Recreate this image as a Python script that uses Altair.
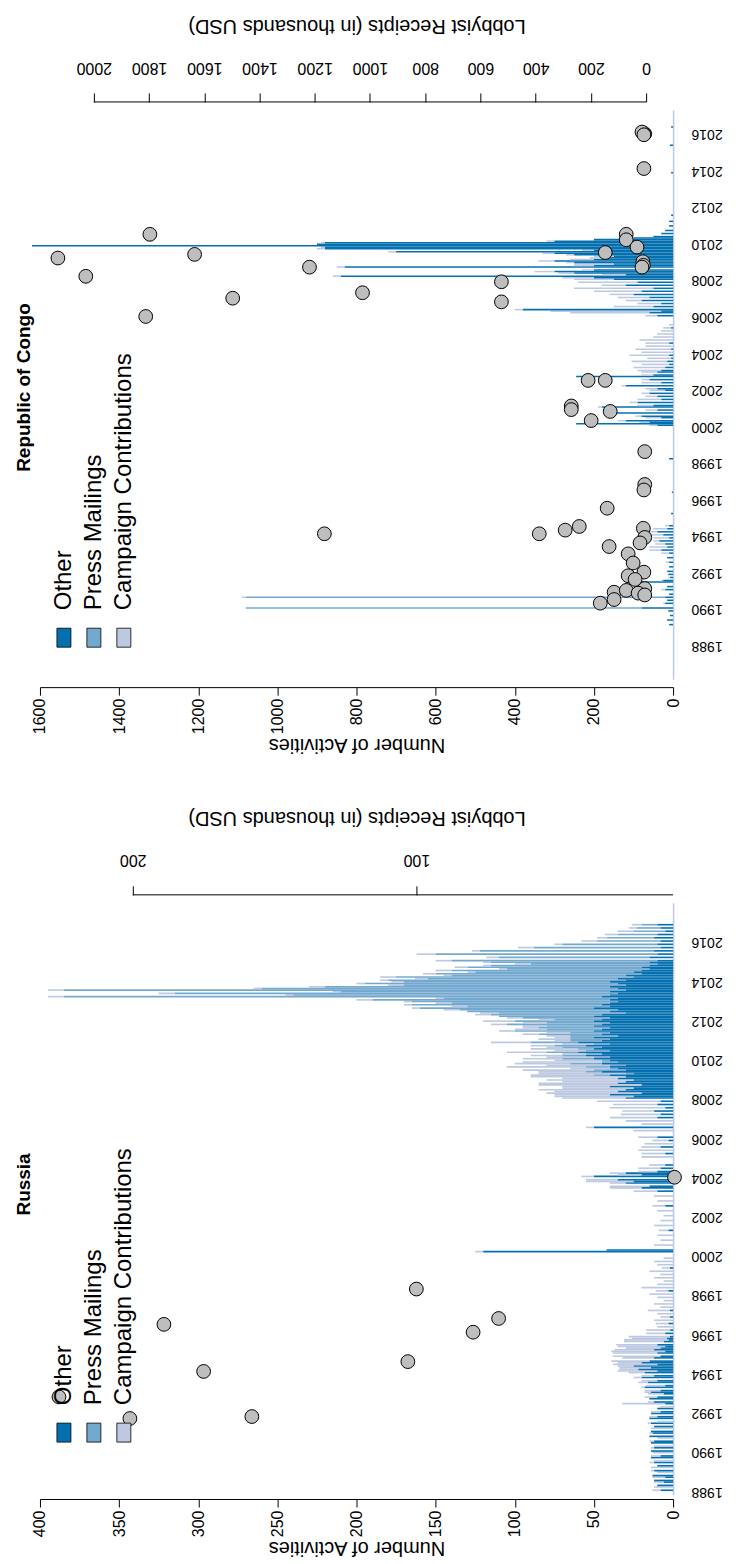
import altair as alt
import pandas as pd

# ---------------- data ----------------
series = ["Other", "Press Mailings", "Campaign Contributions"]
colors = ["#0570b0", "#74a9cf", "#bdc9e1"]
years = list(range(1988, 2017, 2))

# Russia: monthly activities (month index from Jan 1988)
ru_m = [0, 2, 3, 5, 6, 8, 9, 11, 12, 14, 15, 17, 18, 20, 21, 23, 24, 26, 27, 29, 30, 32, 33, 35,
        36, 38, 39, 41, 42, 44, 45, 47, 48, 50, 51, 53, 54, 56, 57, 59, 60, 61, 63, 64, 66, 67, 69, 70,
        72, 73, 74, 75, 76, 77, 78, 79, 81, 82, 84, 85, 86, 87, 88, 89, 91, 92, 93, 94,
        96, 98, 100, 102, 104, 106, 108, 110, 112, 114, 116, 118, 120, 122, 124, 126, 128, 130,
        132, 134, 136, 138, 140, 142, 146, 147, 150, 153, 156, 159, 162, 165, 168, 171, 174, 177,
        180, 183, 185, 186, 188, 189, 190, 192, 193, 194, 195, 197, 199, 204, 206, 208, 210, 212, 214,
        216, 220, 222, 224, 226, 228, 230, 232, 234, 236, 238,
        240, 241, 242, 243, 244, 245, 246, 247, 248, 249, 250, 251,
        252, 253, 254, 255, 256, 257, 258, 259, 260, 261, 262, 263,
        264, 265, 266, 267, 268, 269, 270, 271, 272, 273, 274, 275,
        276, 277, 278, 279, 280, 281, 282, 283, 284, 285, 286, 287,
        288, 289, 290, 291, 292, 293, 294, 295, 296, 297, 298, 299,
        300, 301, 302, 303, 304, 305, 306, 307, 308, 309, 310, 311,
        312, 313, 314, 315, 316, 317, 318, 319, 320, 321, 322, 323,
        324, 326, 328, 330, 332, 334, 336, 338, 340, 342, 344, 346]
ru_oth = [8, 0, 10, 6, 12, 5, 13, 0, 12, 0, 10, 12, 0, 14, 8, 0, 14, 12, 0, 14, 12, 0, 15, 13,
          14, 0, 12, 14, 0, 15, 10, 14, 8, 10, 0, 5, 12, 15, 10, 6, 14, 8, 18, 5, 16, 10, 20, 12,
          18, 10, 22, 14, 25, 10, 20, 15, 12, 8, 10, 5, 12, 8, 5, 10, 6, 3, 4, 2,
          5, 2, 0, 3, 0, 2, 0, 2, 0, 0, 0, 0, 0, 3, 0, 0, 0, 0,
          0, 0, 2, 0, 0, 0, 120, 42, 0, 0, 0, 3, 0, 0, 0, 0, 5, 0,
          0, 10, 20, 15, 30, 25, 35, 50, 20, 30, 10, 8, 5, 0, 5, 0, 8, 0, 3,
          10, 0, 50, 0, 0, 10, 8, 12, 5, 10, 8,
          30, 25, 40, 20, 35, 30, 25, 40, 20, 35, 30, 25,
          35, 30, 40, 25, 45, 30, 35, 40, 30, 45, 35, 40,
          50, 40, 55, 45, 60, 40, 50, 45, 55, 40, 60, 45,
          40, 50, 35, 45, 40, 50, 45, 40, 50, 45, 40, 50,
          45, 40, 50, 45, 30, 40, 35, 50, 40, 45, 40, 35,
          40, 35, 45, 40, 35, 40, 30, 35, 40, 30, 35, 40,
          30, 35, 25, 30, 20, 25, 20, 15, 20, 15, 10, 15,
          10, 15, 10, 12, 8, 10, 8, 12, 10, 5, 8, 10]
ru_prs = [0] * 148 + \
         [10, 5, 10, 20, 5, 15, 10, 20, 10, 5, 20, 10,
          15, 10, 20, 15, 10, 25, 20, 10, 30, 20, 25, 15,
          30, 40, 25, 50, 35, 45, 30, 60, 40, 50, 30, 55,
          60, 70, 80, 90, 100, 110, 90, 120, 100, 130, 150, 110,
          340, 200, 280, 170, 355, 225, 180, 140, 160, 130, 150, 120,
          150, 110, 130, 100, 120, 90, 110, 100, 80, 100, 130, 95,
          140, 110, 80, 60, 40, 30, 25, 20, 15, 10, 8, 5,
          10, 5, 0, 5, 0, 0, 0, 0, 0, 0, 0, 0]
ru_cmp = [5, 12, 0, 6, 0, 8, 0, 10, 2, 14, 0, 3, 12, 0, 6, 13, 0, 2, 12, 0, 3, 10, 0, 2,
          0, 14, 0, 2, 10, 0, 5, 0, 6, 0, 8, 27, 4, 0, 8, 10, 4, 10, 2, 12, 6, 10, 5, 8,
          10, 25, 12, 20, 10, 28, 15, 24, 20, 30, 28, 34, 25, 22, 30, 26, 25, 28, 22, 26,
          12, 15, 10, 8, 12, 6, 10, 14, 8, 12, 6, 10, 15, 8, 20, 10, 6, 12,
          8, 15, 5, 10, 12, 6, 5, 0, 12, 8, 10, 6, 12, 8, 6, 10, 8, 10,
          12, 15, 20, 25, 10, 30, 20, 8, 15, 10, 12, 14, 10, 20, 15, 22, 12, 18, 10,
          12, 25, 5, 20, 30, 30, 25, 20, 35, 28, 40,
          40, 50, 35, 60, 40, 55, 45, 30, 65, 50, 40, 55,
          35, 60, 40, 55, 30, 45, 25, 50, 40, 35, 50, 30,
          25, 30, 20, 15, 25, 20, 30, 10, 15, 20, 25, 10,
          20, 10, 15, 10, 15, 10, 20, 10, 15, 10, 15, 20,
          10, 10, 0, 10, 12, 0, 10, 5, 10, 5, 10, 5,
          10, 5, 10, 5, 10, 5, 10, 5, 10, 10, 5, 8,
          5, 8, 10, 5, 8, 5, 10, 5, 8, 5, 10, 5,
          10, 8, 12, 5, 10, 5, 10, 6, 8, 10, 5, 6]

ru_pt_year = [1992.8, 1991.7, 1994.1, 1991.8, 1996.5, 1994.6, 1996.1, 1996.8, 1998.3, 2004.0]
ru_pt_val = [226, 201, 175, 158, 189, 103, 80, 71, 100, 9]

# Republic of Congo: monthly activities (month index from Jan 1988)
cg_m = [13, 16, 19, 22, 24, 27, 29, 31, 33, 36, 38, 41, 42, 44, 46, 48, 51, 54, 57,
        60, 62, 64, 66, 68, 70, 72, 74, 76, 78, 86, 100, 122,
        144, 145, 146, 147, 149, 150, 152, 154, 156, 157, 159, 161, 163, 165, 167,
        168, 170, 172, 174, 176, 177, 179, 180, 182, 184, 186, 188, 190,
        192, 194, 196, 198, 200, 202, 204, 206, 208, 210,
        216, 218, 219, 220, 222, 224, 226, 228, 230, 232, 234, 236, 238,
        240, 241, 242, 243, 244, 245, 246, 248, 249, 250, 251,
        252, 253, 254, 255, 256, 257, 258, 259, 260, 261, 262, 263,
        264, 265, 266, 267, 268, 270, 272, 275, 278, 282, 310, 328, 340]
cg_oth = [10, 15, 8, 12, 80, 20, 15, 20, 10, 20, 15, 80, 25, 8, 12, 15, 10, 10, 15,
          10, 30, 15, 20, 35, 10, 25, 40, 15, 10, 5, 3, 10,
          40, 245, 60, 120, 30, 80, 150, 40, 180, 50, 90, 30, 40, 60, 20,
          40, 120, 30, 60, 245, 50, 40, 30, 20, 10, 15, 5, 10,
          0, 5, 0, 10, 0, 0, 0, 0, 5, 0,
          40, 60, 30, 380, 50, 30, 80, 60, 100, 80, 50, 120, 90,
          150, 200, 840, 120, 250, 300, 200, 830, 200, 150, 250,
          300, 200, 180, 150, 250, 300, 700, 200, 880, 880, 1620, 900,
          880, 300, 200, 100, 50, 30, 20, 10, 10, 5, 5, 8, 5]
cg_prs = [0, 0, 0, 0, 1000, 0, 0, 1060] + [0] * 114
cg_cmp = [0, 0, 0, 0, 0, 5, 0, 10, 0, 10, 0, 0, 5, 4, 0, 0, 0, 8, 0,
          20, 30, 45, 25, 15, 40, 30, 20, 35, 10, 0, 0, 0,
          20, 0, 25, 20, 40, 15, 10, 30, 10, 40, 20, 60, 30, 20, 40,
          30, 10, 50, 20, 0, 30, 40, 60, 80, 70, 90, 60, 100,
          80, 90, 70, 60, 85, 50, 40, 30, 20, 10,
          30, 200, 280, 20, 100, 60, 40, 80, 60, 120, 200, 60, 150,
          100, 80, 20, 60, 40, 50, 30, 20, 50, 100, 20,
          40, 60, 30, 50, 20, 30, 20, 30, 20, 10, 0, 0,
          10, 20, 0, 0, 0, 0, 0, 0, 0, 0, 0, 0, 0]

cg_pt_year = [2016.0, 2016.05, 2016.1, 2015.95, 2014.1, 2010.5, 2010.2, 2009.8, 2009.5, 2009.0,
              2008.8, 2008.7, 2008.7, 2009.4, 2010.5, 2009.2, 2008.2, 2007.0, 2007.3, 2007.9,
              2006.8, 2006.0, 2002.5, 2002.5, 2001.1, 2000.9, 2000.8, 2000.3, 1998.6, 1996.8,
              1996.5, 1995.5, 1994.1, 1994.3, 1994.5, 1993.4, 1994.4, 1993.9, 1993.6, 1993.0,
              1992.5, 1992.0, 1991.8, 1991.6, 1991.1, 1990.9, 1990.3, 1991.0, 1990.85, 1990.75,
              1990.5, 1994.1]
cg_pt_val = [5, 10, 15, 8, 8, 72, 72, 33, 148, 12,
             10, 15, 1219, 1635, 1797, 2130, 2029, 1497, 1027, 524,
             524, 1812, 148, 210, 271, 271, 130, 199, 5, 5,
             8, 141, 387, 293, 242, 134, 10, 5, 22, 65,
             47, 8, 65, 40, 5, 116, 166, 72, 29, 5,
             116, 1165]

FONT = "Liberation Sans"


def bar_frame(m, oth, prs, cmp):
    rows = []
    for i, mi in enumerate(m):
        t0 = 1988 + mi / 12.0
        base = 0.0
        for s, v in zip(series, (oth[i], prs[i], cmp[i])):
            if v > 0:
                rows.append({"t0": t0, "t1": t0 + 1 / 12.0, "x0": base, "x1": base + v, "series": s})
                base += v
    return pd.DataFrame(rows)


def panel(name, m, oth, prs, cmp, pyear, pval, act_max, act_ticks, rec_dom, rec_ticks, ydom, H,
          title_y, leg_y, act_offset, W=634):
    bars_df = bar_frame(m, oth, prs, cmp)
    pts_df = pd.DataFrame({"yr": pyear, "val": pval})
    rule_df = pd.DataFrame({"a": [max(rec_ticks)], "b": [max(0, rec_dom[0])]})

    yscale = alt.Scale(domain=ydom, nice=False, zero=False)
    bars = alt.Chart(bars_df).mark_rect().encode(
        x=alt.X("x0:Q", scale=alt.Scale(domain=[0, act_max], reverse=True, nice=False, zero=False),
                axis=alt.Axis(orient="bottom", values=act_ticks, labelAngle=270, labelAlign="right",
                              labelBaseline="middle", format="d", title="Number of Activities",
                              titleAngle=180, titleBaseline="top", titlePadding=21, offset=act_offset,
                              grid=False, domainColor="black", tickColor="black", tickSize=8,
                              labelFontSize=16, titleFontSize=20, titleFontWeight="normal",
                              labelFont=FONT, titleFont=FONT, labelColor="black", titleColor="black",
                              labelPadding=3)),
        x2="x1:Q",
        y=alt.Y("t0:Q", scale=yscale,
                axis=alt.Axis(orient="right", values=years, labelAngle=180, labelAlign="right",
                              labelBaseline="middle", format="d", title=None, ticks=False,
                              domainColor="#bdc9e1", domainWidth=1.5, grid=False, labelPadding=18,
                              labelFontSize=14, labelFont=FONT, labelColor="black")),
        y2="t1:Q",
        color=alt.Color("series:N", scale=alt.Scale(domain=series, range=colors), legend=None),
    )

    xrec = alt.Scale(domain=rec_dom, reverse=True, nice=False, zero=False)
    pts = alt.Chart(pts_df).mark_circle(size=190, color="#bebebe", stroke="black", strokeWidth=1, opacity=1).encode(
        x=alt.X("val:Q", scale=xrec,
                axis=alt.Axis(orient="top", values=rec_ticks, labelAngle=180, labelAlign="center",
                              labelBaseline="top", format="d", domain=False, offset=8, tickSize=9,
                              tickColor="black", grid=False, title="Lobbyist Receipts (in thousands USD)",
                              titleAngle=180, titleBaseline="top", titlePadding=24,
                              labelFontSize=16, titleFontSize=20, titleFontWeight="normal",
                              labelFont=FONT, titleFont=FONT, labelColor="black", titleColor="black",
                              labelPadding=18)),
        y=alt.Y("yr:Q", scale=yscale),
    )
    rule = alt.Chart(rule_df).mark_rule(color="black", strokeWidth=1).encode(
        x=alt.X("a:Q", scale=xrec), x2="b:Q", y=alt.value(-8))

    # legend and panel title (decoration, placed in pixels)
    leg_df = pd.DataFrame({"label": series, "col": colors, "px": [24, 54, 84]})
    sq = alt.Chart(leg_df).mark_rect(stroke="black", strokeWidth=0.8).encode(
        x=alt.X("pxl:Q", scale=None), x2=alt.X2("pxr:Q"),
        y=alt.value(leg_y + 18), y2=alt.value(leg_y + 37),
        color=alt.Color("col:N", scale=None),
    ).transform_calculate(pxl="datum.px - 7", pxr="datum.px + 7")
    lt = alt.Chart(leg_df).mark_text(angle=270, align="left", baseline="middle", fontSize=24,
                                     font=FONT, color="black").encode(
        x=alt.X("px:Q", scale=None), y=alt.value(leg_y), text="label:N",
    )
    tt = alt.Chart(pd.DataFrame({"t": [name]})).mark_text(
        angle=270, align="center", baseline="middle", fontSize=19, font=FONT, fontWeight="bold",
        color="black").encode(x=alt.value(-16), y=alt.value(title_y), text="t:N")

    return alt.layer(bars, alt.layer(pts, rule), sq, lt, tt).resolve_scale(
        x="independent", color="independent").properties(width=W, height=H)


congo = panel("Republic of Congo", cg_m, cg_oth, cg_prs, cg_cmp, cg_pt_year, cg_pt_val,
              1600, list(range(0, 1601, 200)), [-97.6, 2195], list(range(0, 2001, 200)),
              [1986.14, 2017.31], 570, title_y=278, leg_y=501, act_offset=8)
russia = panel("Russia", ru_m, ru_oth, ru_prs, ru_cmp, ru_pt_year, ru_pt_val,
               400, list(range(0, 401, 50)), [9.5, 232.7], [100, 200],
               [1987.8, 2017.99], 593, title_y=282, leg_y=503, act_offset=4)

chart = alt.vconcat(congo, russia, spacing=52).configure(
    padding={"left": 7, "top": 5, "right": 5, "bottom": 0}
).configure_view(stroke=None)

chart.save("out.html", embed_options={"renderer": "svg", "actions": False})
